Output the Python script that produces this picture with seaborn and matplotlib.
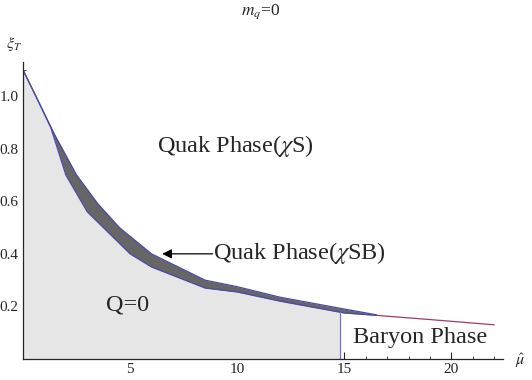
import matplotlib
matplotlib.use("Agg")
import matplotlib.pyplot as plt
import numpy as np
import pandas as pd
import seaborn as sns

# upper edge of the chiral transition band
upper_mu = [0.0, 0.6, 1.5, 2.5, 3.5, 4.5, 6.0, 8.5, 10.0, 12.0, 15.0, 16.5]
upper_xi = [1.10, 1.00, 0.85, 0.70, 0.59, 0.50, 0.40, 0.30, 0.275, 0.235, 0.19, 0.168]

# lower edge of the band (boundary of the Q=0 region)
lower_mu = [0.0, 0.6, 1.3, 2.0, 3.0, 5.0, 6.0, 8.5, 10.0, 12.0, 15.0, 16.5]
lower_xi = [1.10, 1.00, 0.88, 0.70, 0.56, 0.40, 0.35, 0.27, 0.255, 0.22, 0.175, 0.166]

# single boundary line after the band closes
tail_mu = [16.5, 19.0, 22.0]
tail_xi = [0.166, 0.150, 0.13]

baryon_mu = 14.8

sns.set_style("ticks")
plt.rcParams['font.family'] = ['Liberation Serif', 'DejaVu Serif']
plt.rcParams['mathtext.fontset'] = 'stix'

fig = plt.figure(figsize=(5.32, 3.8), dpi=100)
ax = fig.add_axes([0.0432, 0.0553, 0.902, 0.7816])

grid = np.linspace(0, upper_mu[-1], 400)
up = np.interp(grid, upper_mu, upper_xi)
lo = np.interp(grid, lower_mu, lower_xi)

# light gray Q=0 region up to the baryon line
m = grid <= baryon_mu
ax.fill_between(grid[m], 0, lo[m], color='#e6e6e6', lw=0)
# dark band between the two curves
ax.fill_between(grid, lo, up, color='#666666', lw=0)

df_up = pd.DataFrame({'mu': upper_mu, 'xi': upper_xi})
df_lo = pd.DataFrame({'mu': lower_mu, 'xi': lower_xi})
df_tail = pd.DataFrame({'mu': tail_mu, 'xi': tail_xi})
sns.lineplot(data=df_up, x='mu', y='xi', ax=ax, color='#4a4aa8', lw=0.9, sort=False)
sns.lineplot(data=df_lo, x='mu', y='xi', ax=ax, color='#4a4aa8', lw=0.9, sort=False)
sns.lineplot(data=df_tail, x='mu', y='xi', ax=ax, color='#a03a6e', lw=0.9, sort=False)

ax.plot([baryon_mu, baryon_mu], [0, np.interp(baryon_mu, lower_mu, lower_xi)],
        color='#7070d0', lw=0.9)

ax.set_xlim(0, 22.4)
ax.set_ylim(0, 1.13)
sns.despine(ax=ax)
ax.spines['left'].set_linewidth(0.9)
ax.spines['bottom'].set_linewidth(0.9)

ax.set_xticks([5, 10, 15, 20])
ax.set_xticks(np.arange(1, 23), minor=True)
ax.set_yticks([0.2, 0.4, 0.6, 0.8, 1.0])
ax.set_yticklabels(['0.2', '0.4', '0.6', '0.8', '1.0'])
ax.set_yticks(np.arange(0.05, 1.13, 0.05), minor=True)
ax.tick_params(axis='both', which='major', direction='in', length=5, width=0.8,
               labelsize=11, pad=3)
ax.tick_params(axis='both', which='minor', direction='in', length=2.5, width=0.6)
ax.set_xlabel('')
ax.set_ylabel('')

ax.text(-0.4, 1.2, r'$\xi_T$', fontsize=11.5, ha='center', va='center', clip_on=False)
ax.text(23.2, -0.005, r'$\hat{\mu}$', fontsize=11.5, ha='center', va='center', clip_on=False)
fig.text(0.49, 0.968, r'$m_q$=0', fontsize=12.5, ha='center', va='center')

ax.text(9.9, 0.81, r'Quak Phase($\chi$S)', fontsize=17.5, ha='center', va='center')
ax.text(4.9, 0.205, 'Q=0', fontsize=17.5, ha='center', va='center')
ax.text(18.55, 0.08, 'Baryon Phase', fontsize=17.5, ha='center', va='center')
ax.text(8.85, 0.405, r'Quak Phase($\chi$SB)', fontsize=17.5, ha='left', va='center')
ax.annotate('', xy=(6.5, 0.40), xytext=(8.85, 0.40),
            arrowprops=dict(arrowstyle='-|>', color='black', lw=0.9,
                            shrinkA=0, shrinkB=0, mutation_scale=14))

fig.savefig('out.png', dpi=100)
